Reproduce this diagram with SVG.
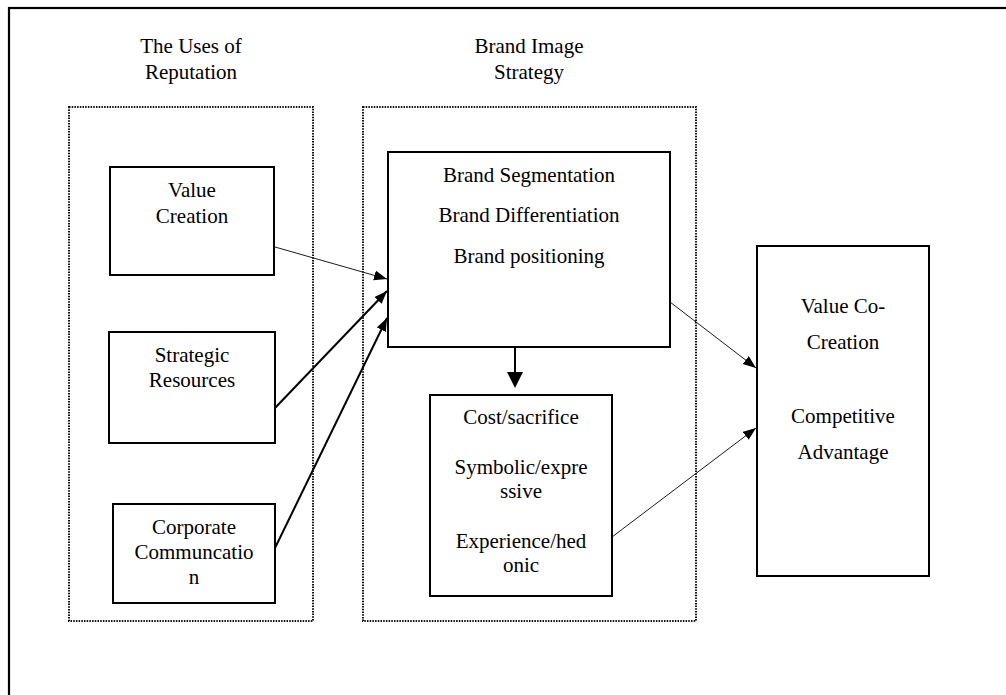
<svg xmlns="http://www.w3.org/2000/svg" width="1006" height="695" viewBox="0 0 1006 695">
<style>
  text { font-family: "Liberation Serif", "Times New Roman", serif; font-size: 21px; fill: #000; text-anchor: middle; }
  .box { fill: #fff; stroke: #000; stroke-width: 2; }
  .group { fill: none; stroke: #111; stroke-width: 2; stroke-dasharray: 1.5 1.2; }
  .thin { stroke: #000; stroke-width: 0.9; fill: none; }
  .thick { stroke: #000; stroke-width: 2; fill: none; }
</style>
<defs>
  <marker id="ah" markerUnits="userSpaceOnUse" markerWidth="15" markerHeight="12" refX="13" refY="5" orient="auto">
    <path d="M0,0 L13,5 L0,10 Z" fill="#000"/>
  </marker>
</defs>
<rect width="1006" height="695" fill="#fff"/>
<rect x="9" y="8" width="1010" height="700" fill="none" stroke="#000" stroke-width="2.2"/>

<g id="group-reputation">
  <rect class="group" x="69" y="107" width="244" height="514"/>
  <text x="191" y="53">The Uses of</text>
  <text x="191" y="79">Reputation</text>
</g>
<g id="group-brand-image">
  <rect class="group" x="363" y="107" width="333" height="514"/>
  <text x="529" y="53">Brand Image</text>
  <text x="529" y="79">Strategy</text>
</g>

<g id="node-value-creation">
  <rect class="box" x="110" y="167" width="164" height="108"/>
  <text x="192" y="197">Value</text>
  <text x="192" y="223">Creation</text>
</g>
<g id="node-strategic-resources">
  <rect class="box" x="109" y="332" width="166" height="111"/>
  <text x="192" y="362">Strategic</text>
  <text x="192" y="387">Resources</text>
</g>
<g id="node-corporate-communication">
  <rect class="box" x="113" y="504" width="162" height="99"/>
  <text x="194" y="534">Corporate</text>
  <text x="194" y="559">Communcatio</text>
  <text x="194" y="584">n</text>
</g>
<g id="node-brand">
  <rect class="box" x="388" y="152" width="282" height="195"/>
  <text x="529" y="182">Brand Segmentation</text>
  <text x="529" y="222">Brand Differentiation</text>
  <text x="529" y="263">Brand positioning</text>
</g>
<g id="node-cost">
  <rect class="box" x="430" y="395" width="182" height="201"/>
  <text x="521" y="424">Cost/sacrifice</text>
  <text x="521" y="474">Symbolic/expre</text>
  <text x="521" y="498">ssive</text>
  <text x="521" y="548">Experience/hed</text>
  <text x="521" y="572">onic</text>
</g>
<g id="node-value-cocreation">
  <rect class="box" x="757" y="246" width="172" height="330"/>
  <text x="843" y="313">Value Co-</text>
  <text x="843" y="349">Creation</text>
  <text x="843" y="423">Competitive</text>
  <text x="843" y="459">Advantage</text>
</g>

<g id="connectors">
  <line class="thin" x1="275" y1="247" x2="387" y2="279" marker-end="url(#ah)"/>
  <line class="thick" x1="275" y1="408" x2="387" y2="291" marker-end="url(#ah)"/>
  <line class="thick" x1="275" y1="548" x2="387" y2="318" marker-end="url(#ah)"/>
  <line class="thin" x1="670" y1="302" x2="756" y2="368" marker-end="url(#ah)"/>
  <line class="thin" x1="612" y1="537" x2="756" y2="428" marker-end="url(#ah)"/>
  <line class="thick" x1="515" y1="347" x2="515" y2="374"/>
  <polygon points="507,372 523,372 515,388" fill="#000"/>
</g>
</svg>
